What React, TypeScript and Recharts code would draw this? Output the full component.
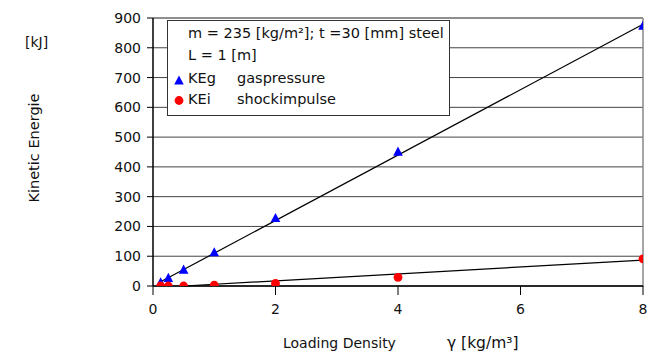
import React from "react";
import {
  ComposedChart,
  Scatter,
  XAxis,
  YAxis,
  CartesianGrid,
  ReferenceLine,
  Customized,
} from "recharts";

const densities = [0.125, 0.25, 0.5, 1, 2, 4, 8];
const kegValues = [14, 29, 57, 115, 230, 453, 876];
const keiValues = [0, 0, 0, 3, 9, 29, 91];
const xTicks = [0, 2, 4, 6, 8];
const yTicks = [0, 100, 200, 300, 400, 500, 600, 700, 800, 900];
const kegTrend = [
  { x: 0.125, y: 14 },
  { x: 8, y: 879 },
];
const keiTrend = [
  { x: 0.5, y: 0 },
  { x: 8, y: 87 },
];
const legendLines = [
  "m = 235 [kg/m²]; t =30 [mm] steel",
  "L = 1 [m]",
];
const seriesNames = ["KEg", "KEi"];
const seriesDescs = ["gaspressure", "shockimpulse"];

const kegData = densities.map((d, i) => ({ x: d, y: kegValues[i] }));
const keiData = densities.map((d, i) => ({ x: d, y: keiValues[i] }));

const BLUE = "#0000FF";
const RED = "#FF0000";
const FONT = "'DejaVu Sans', sans-serif";

const Triangle = (props: any) => {
  const { cx, cy } = props;
  if (cx == null || cy == null) return null;
  const w = 4.8;
  const h = 4.6;
  return (
    <polygon
      points={`${cx},${cy - h} ${cx - w},${cy + h} ${cx + w},${cy + h}`}
      fill={BLUE}
    />
  );
};

const Dot = (props: any) => {
  const { cx, cy } = props;
  if (cx == null || cy == null) return null;
  return <circle cx={cx} cy={cy} r={4.4} fill={RED} />;
};

const LT = { fontFamily: FONT, fontSize: 14.5, fill: "#111" };

const Overlay = () => (
  <g>
    {/* legend box */}
    <rect x={167.5} y={20.5} width={282} height={95} fill="#fff" stroke="#333" strokeWidth={1} />
    <text x={188} y={38} {...LT}>
      {legendLines[0]}
    </text>
    <text x={188} y={60} {...LT}>
      {legendLines[1]}
    </text>
    <polygon points="179,75.5 174.2,84.5 183.8,84.5" fill={BLUE} />
    <text x={188} y={83} {...LT}>
      {seriesNames[0]}
    </text>
    <text x={237} y={83} {...LT}>
      {seriesDescs[0]}
    </text>
    <circle cx={179} cy={100.5} r={4.4} fill={RED} />
    <text x={188} y={104} {...LT}>
      {seriesNames[1]}
    </text>
    <text x={237} y={104} {...LT}>
      {seriesDescs[1]}
    </text>
    {/* axis titles */}
    <text x={25} y={47} fontFamily={FONT} fontSize={14} fill="#111">
      [kJ]
    </text>
    <text
      x={39}
      y={148}
      transform="rotate(-90 39 148)"
      textAnchor="middle"
      fontFamily={FONT}
      fontSize={14.5}
      fill="#111"
    >
      Kinetic Energie
    </text>
    <text x={283} y={348} fontFamily={FONT} fontSize={14} fill="#111">
      Loading Density
    </text>
    <text x={447} y={348} fontFamily={FONT} fontSize={15.5} fill="#111">
      γ [kg/m³]
    </text>
    {/* plot frame (top and right) */}
    <line x1={153} y1={18} x2={643} y2={18} stroke="#888" strokeWidth={1.5} />
    <line x1={643} y1={18} x2={643} y2={287} stroke="#888" strokeWidth={1.5} />
  </g>
);

export default function App() {
  return (
    <div style={{ position: "absolute", left: 0, top: 0, width: 659, height: 354, background: "#fff" }}>
      <ComposedChart
        width={659}
        height={354}
        margin={{ top: 18, right: 16, left: 0, bottom: 0 }}
      >
        <CartesianGrid vertical={false} stroke="#444" strokeWidth={1} />
        <XAxis
          type="number"
          dataKey="x"
          domain={[0, 8]}
          ticks={xTicks}
          height={68}
          tickSize={9}
          tickMargin={9}
          axisLine={{ stroke: "#000", strokeWidth: 1.5 }}
          tickLine={{ stroke: "#000" }}
          tick={{ fill: "#111", fontSize: 14, fontFamily: FONT }}
          allowDataOverflow
        />
        <YAxis
          type="number"
          dataKey="y"
          domain={[0, 900]}
          ticks={yTicks}
          width={153}
          tickSize={6}
          tickMargin={6}
          axisLine={{ stroke: "#000", strokeWidth: 1.5 }}
          tickLine={{ stroke: "#000" }}
          tick={{ fill: "#111", fontSize: 14, fontFamily: FONT }}
          allowDataOverflow
        />
        <ReferenceLine segment={kegTrend} stroke="#000" strokeWidth={1.2} ifOverflow="visible" />
        <ReferenceLine segment={keiTrend} stroke="#000" strokeWidth={1.2} ifOverflow="visible" />
        <Scatter data={kegData} shape={Triangle} isAnimationActive={false} />
        <Scatter data={keiData} shape={Dot} isAnimationActive={false} />
        <Customized component={Overlay} />
      </ComposedChart>
    </div>
  );
}
